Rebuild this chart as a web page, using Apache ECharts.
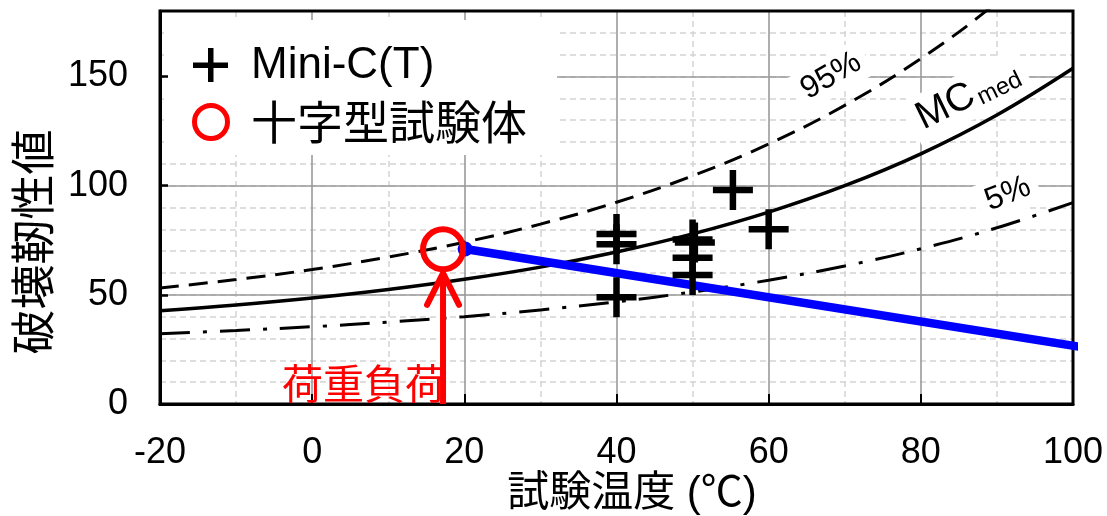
<!DOCTYPE html>
<html>
<head>
<meta charset="utf-8">
<style>
html,body{margin:0;padding:0;background:#fff;}
#chart{width:1107px;height:516px;}
</style>
<script src="https://cdn.jsdelivr.net/npm/echarts@6/dist/echarts.min.js"></script>
</head>
<body>
<div id="chart"></div>
<script>
// ---- data ----
var temps = [-20, -10, 0, 10, 20, 30, 40, 50, 60, 70, 80, 90, 100];
var mcMed = [42.7, 45.3, 48.5, 52.4, 57.1, 62.7, 69.6, 77.9, 87.9, 100, 114.6, 132.4, 153.8];
var mc95  = [53.1, 57.0, 61.6, 67.3, 74.1, 82.4, 92.4, 104.5, 119.1, 136.8, 158.2, 184.0, 215.0];
var mc5   = [32.2, 33.7, 35.4, 37.5, 40.0, 43.1, 46.8, 51.3, 56.7, 63.2, 71.1, 80.7, 92.2];

var miniX = [40, 40, 40, 50, 50.3, 50, 50, 55.3, 60];
var miniY = [77.9, 73.2, 48.9, 75.4, 74.0, 67.0, 59.1, 98.0, 80.0];

var crossX = [17.2];
var crossY = [70.9];

var blueX = [20.1, 104.5];
var blueY = [71.0, 24.2];

var arrowShaftX = [17.2, 17.2];
var arrowShaftY = [0, 59.9];
var arrowHeadX = [15.1, 17.2, 19.3];
var arrowHeadY = [45.4, 59.9, 45.4];

var xTicks = [-20, 0, 20, 40, 60, 80, 100];
var yTicks = [0, 50, 100, 150];

// ---- build ----
function zip(a, b) { return a.map(function (v, i) { return [v, b[i]]; }); }

var FONT = "'Liberation Sans', 'Noto Sans CJK JP', sans-serif";
var CJK = "'Noto Sans CJK JP', sans-serif";
var plusPath = 'path://M16.75,0H23.25V16.75H40V23.25H23.25V40H16.75V23.25H0V16.75H16.75Z';

var chart = echarts.init(document.getElementById('chart'), null, {renderer: 'canvas'});

function off() { return {show: false}; }

var option = {
  animation: false,
  backgroundColor: '#fff',
  grid: {left: 160, right: 34, top: 11, bottom: 112, containLabel: false,
         show: true, z: 1.5, backgroundColor: 'transparent', borderColor: '#000', borderWidth: 3},
  xAxis: [
    { // bottom axis with labels
      type: 'value', position: 'bottom', min: xTicks[0], max: xTicks[xTicks.length - 1], interval: 20, z: 1,
      axisLine: {show: true, onZero: false, lineStyle: {color: '#000', width: 3}},
      axisTick: {show: true, inside: true, length: 10, lineStyle: {color: '#000', width: 2}},
      axisLabel: {show: true, color: '#000', fontSize: 36, fontFamily: FONT, margin: 31},
      splitLine: off()
    },
    { // grid lines x
      type: 'value', position: 'bottom', min: -20, max: 100, interval: 20, z: 0,
      axisLine: off(), axisTick: off(), axisLabel: off(),
      splitLine: {show: true, lineStyle: {color: '#9a9a9a', width: 1.6}},
      minorTick: {show: false, splitNumber: 2},
      minorSplitLine: {show: true, lineStyle: {color: '#d4d4d4', width: 1.5, type: [6, 4]}}
    }
  ],
  yAxis: [
    { // left axis with labels
      type: 'value', position: 'left', min: yTicks[0], max: 180, interval: 50, z: 1,
      axisLine: {show: true, onZero: false, lineStyle: {color: '#000', width: 3}},
      axisTick: {show: true, inside: true, length: 8, lineStyle: {color: '#000', width: 2.5}},
      axisLabel: {show: true, color: '#000', fontSize: 36, fontFamily: FONT, margin: 32, showMaxLabel: false},
      splitLine: off()
    },
    { // minor horizontal dashed grid
      type: 'value', position: 'left', min: 0, max: 180, interval: 10, z: 0,
      axisLine: off(), axisTick: off(), axisLabel: off(),
      splitLine: {show: true, lineStyle: {color: '#d4d4d4', width: 1.5, type: [6, 4]}}
    },
    { // major horizontal grid
      type: 'value', position: 'left', min: 0, max: 180, interval: 50, z: 0.5,
      axisLine: off(), axisTick: off(), axisLabel: off(),
      splitLine: {show: true, lineStyle: {color: '#9a9a9a', width: 1.6}}
    }
  ],
  series: [
    {
      name: '95%', type: 'line', xAxisIndex: 0, yAxisIndex: 0, z: 2,
      data: zip(temps, mc95), symbol: 'none', smooth: 0.4,
      lineStyle: {color: '#000', width: 3, type: [19, 10]}
    },
    {
      name: 'MCmed', type: 'line', xAxisIndex: 0, yAxisIndex: 0, z: 2,
      data: zip(temps, mcMed), symbol: 'none', smooth: 0.4,
      lineStyle: {color: '#000', width: 3.5, type: 'solid'}
    },
    {
      name: '5%', type: 'line', xAxisIndex: 0, yAxisIndex: 0, z: 2,
      data: zip(temps, mc5), symbol: 'none', smooth: 0.4,
      lineStyle: {color: '#000', width: 3, type: [30, 13, 4, 13]}
    },
    {
      name: 'load', type: 'line', xAxisIndex: 0, yAxisIndex: 0, z: 3, clip: false,
      data: zip(blueX, blueY).map(function (p, i) {
        return i === 0 ? {value: p, symbol: 'circle', symbolSize: 15} : {value: p, symbol: 'none'};
      }),
      showSymbol: true,
      itemStyle: {color: '#0000ff'},
      lineStyle: {color: '#0000ff', width: 8.5}
    },
    {
      name: 'arrowShaft', type: 'line', xAxisIndex: 0, yAxisIndex: 0, z: 3, clip: false,
      data: zip(arrowShaftX, arrowShaftY), symbol: 'none',
      lineStyle: {color: '#ff0000', width: 6}
    },
    {
      name: 'arrowHead', type: 'line', xAxisIndex: 0, yAxisIndex: 0, z: 3,
      data: zip(arrowHeadX, arrowHeadY), symbol: 'none',
      lineStyle: {color: '#ff0000', width: 6, cap: 'round', join: 'round'}
    },
    {
      name: 'Mini-C(T)', type: 'scatter', xAxisIndex: 0, yAxisIndex: 0, z: 4,
      data: zip(miniX, miniY), symbol: plusPath, symbolSize: 40,
      itemStyle: {color: '#000', opacity: 1}
    },
    {
      name: '十字型試験体', type: 'scatter', xAxisIndex: 0, yAxisIndex: 0, z: 4,
      data: zip(crossX, crossY), symbol: 'circle', symbolSize: 40,
      itemStyle: {color: 'rgba(0,0,0,0)', borderColor: '#ff0000', borderWidth: 6, opacity: 1}
    }
  ],
  graphic: [
    // legend box
    {type: 'rect', z: 0.9, shape: {x: 164, y: 20, width: 393, height: 135}, style: {fill: '#fff'}},
    {type: 'rect', z: 5, shape: {x: 193, y: 62.5, width: 35, height: 5.5}, style: {fill: '#000'}},
    {type: 'rect', z: 5, shape: {x: 208, y: 48, width: 5.5, height: 34}, style: {fill: '#000'}},
    {type: 'circle', z: 5, shape: {cx: 211, cy: 122, r: 16.5}, style: {fill: 'none', stroke: '#ff0000', lineWidth: 5}},
    {type: 'text', z: 5, x: 251, y: 66, style: {text: 'Mini-C(T)', fontSize: 44, fontFamily: FONT, fill: '#000', align: 'left', verticalAlign: 'middle'}},
    {type: 'text', z: 5, x: 251, y: 122, style: {text: '十字型試験体', fontSize: 46, fontFamily: CJK, fill: '#000', align: 'left', verticalAlign: 'middle'}},
    // curve labels
    {type: 'text', z: 0.9, x: 831, y: 76, rotation: 30 * Math.PI / 180,
      style: {text: '95%', fontSize: 32, fontFamily: FONT, fill: '#000', align: 'center', verticalAlign: 'middle', backgroundColor: '#fff', padding: [4, 8]}},
    {type: 'text', z: 0.9, x: 968, y: 96, rotation: 26 * Math.PI / 180,
      style: {text: '{a|MC}{b|med}', align: 'center', verticalAlign: 'middle', backgroundColor: '#fff', padding: [4, 8],
        rich: {a: {fontSize: 39, fontFamily: FONT, fill: '#000', verticalAlign: 'bottom'},
               b: {fontSize: 24, fontFamily: FONT, fill: '#000', verticalAlign: 'bottom', padding: [0, 0, 0, 3]}}}},
    {type: 'text', z: 0.9, x: 1008, y: 194, rotation: 22 * Math.PI / 180,
      style: {text: '5%', fontSize: 32, fontFamily: FONT, fill: '#000', align: 'center', verticalAlign: 'middle', backgroundColor: '#fff', padding: [4, 8]}},
    // load annotation
    {type: 'text', z: 5, x: 446, y: 383, style: {text: '荷重負荷', fontSize: 41, fontFamily: CJK, fill: '#ff0000', align: 'right', verticalAlign: 'middle'}},
    // axis titles
    {type: 'text', z: 5, x: 632, y: 494, style: {text: '試験温度 (℃)', fontSize: 42, fontFamily: FONT, fill: '#000', align: 'center', verticalAlign: 'middle'}},
    {type: 'text', z: 5, x: 33, y: 242, rotation: Math.PI / 2, style: {text: '破壊靭性値', fontSize: 45, fontFamily: CJK, fill: '#000', align: 'center', verticalAlign: 'middle'}}
  ]
};

chart.setOption(option);
</script>
</body>
</html>
